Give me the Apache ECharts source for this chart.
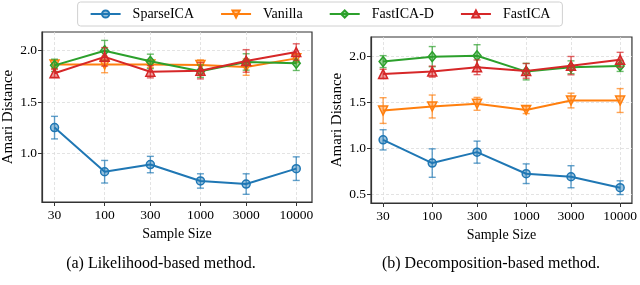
<!DOCTYPE html>
<html>
<head>
<meta charset="utf-8">
<script src="https://cdn.jsdelivr.net/npm/echarts@6/dist/echarts.min.js"></script>
<style>html,body{margin:0;padding:0;background:#fff}#c{width:640px;height:285px}</style>
</head>
<body>
<div id="c"></div>
<script>
const sampleSizes = [30, 100, 300, 1000, 3000, 10000];
const seriesNames = ['SparseICA', 'Vanilla', 'FastICA-D', 'FastICA'];
const yTicksLeft = [1.0, 1.5, 2.0];
const yTicksRight = [0.5, 1.0, 1.5, 2.0];

// (a) Likelihood-based method
const sparseL = [1.25, 0.82, 0.89, 0.73, 0.70, 0.85];
const sparseLErr = [0.11, 0.11, 0.08, 0.07, 0.10, 0.115];
const vanillaL = [1.865, 1.865, 1.865, 1.86, 1.84, 1.925];
const vanillaLErr = [0.04, 0.08, 0.03, 0.05, 0.08, 0.04];
const fastDL = [1.857, 2.0, 1.896, 1.80, 1.89, 1.877];
const fastDLErr = [0.06, 0.10, 0.07, 0.06, 0.08, 0.07];
const fastL = [1.78, 1.94, 1.795, 1.805, 1.90, 1.987];
const fastLErr = [0.04, 0.09, 0.06, 0.08, 0.11, 0.08];

// (b) Decomposition-based method
const sparseR = [1.094, 0.841, 0.96, 0.725, 0.692, 0.573];
const sparseRErr = [0.11, 0.155, 0.12, 0.107, 0.12, 0.075];
const vanillaR = [1.413, 1.457, 1.486, 1.42, 1.522, 1.522];
const vanillaRErr = [0.14, 0.125, 0.07, 0.04, 0.08, 0.13];
const fastDR = [1.946, 2.0, 2.01, 1.837, 1.884, 1.899];
const fastDRErr = [0.065, 0.11, 0.12, 0.09, 0.07, 0.06];
const fastR = [1.812, 1.837, 1.884, 1.845, 1.902, 1.967];
const fastRErr = [0.05, 0.06, 0.08, 0.08, 0.10, 0.08];

const colors = ['#1f77b4', '#ff7f0e', '#2ca02c', '#d62728'];
const fills = ['rgba(31,119,180,0.45)', 'rgba(255,127,14,0.45)', 'rgba(44,160,44,0.45)', 'rgba(214,39,40,0.45)'];
const symbols = ['circle', 'triangle', 'diamond', 'triangle'];
const symbolSizes = [8, 9, [8, 10], 9];
const symbolRot = [0, 180, 0, 0];
const FONT = 'Liberation Serif';

const panels = [
  {means: [sparseL, vanillaL, fastDL, fastL], errs: [sparseLErr, vanillaLErr, fastDLErr, fastLErr]},
  {means: [sparseR, vanillaR, fastDR, fastR], errs: [sparseRErr, vanillaRErr, fastDRErr, fastRErr]}
];

function errRender(params, api) {
  const x = api.value(0), y = api.value(1), e = api.value(2);
  const hi = api.coord([x, y + e]), lo = api.coord([x, y - e]);
  const w = 3.5;
  const style = {stroke: api.visual('color'), lineWidth: 1.4, opacity: 0.7};
  return {type: 'group', children: [
    {type: 'line', shape: {x1: hi[0], y1: hi[1], x2: lo[0], y2: lo[1]}, style},
    {type: 'line', shape: {x1: hi[0] - w, y1: hi[1], x2: hi[0] + w, y2: hi[1]}, style},
    {type: 'line', shape: {x1: lo[0] - w, y1: lo[1], x2: lo[0] + w, y2: lo[1]}, style}
  ]};
}

const series = [];
panels.forEach((p, pi) => {
  seriesNames.forEach((name, si) => {
    series.push({
      name: name + ' err ' + pi, type: 'custom', xAxisIndex: pi, yAxisIndex: pi,
      itemStyle: {color: colors[si]}, renderItem: errRender, silent: true,
      z: 2 + si * 2,
      data: sampleSizes.map((s, i) => [s, p.means[si][i], p.errs[si][i]])
    });
    series.push({
      name: name, type: 'line', xAxisIndex: pi, yAxisIndex: pi,
      data: sampleSizes.map((s, i) => [s, p.means[si][i]]),
      symbol: symbols[si], symbolSize: symbolSizes[si], symbolRotate: symbolRot[si],
      showAllSymbol: true, animation: false, z: 3 + si * 2,
      lineStyle: {color: colors[si], width: 2},
      itemStyle: {color: fills[si], borderColor: colors[si], borderWidth: 1.5}
    });
  });
});

const axisCommon = {
  axisLine: {show: true, lineStyle: {color: '#333', width: 1.2}},
  axisTick: {show: true, inside: false, length: 4, lineStyle: {color: '#333', width: 1}},
  splitLine: {show: true, lineStyle: {color: '#dcdcdc', type: [3, 2], width: 0.8}},
  axisLabel: {color: '#000', fontFamily: FONT, fontSize: 13.5}
};

function xAxis(idx, min, max) {
  return Object.assign({}, axisCommon, {
    type: 'log', gridIndex: idx, min, max, logBase: 10,
    name: 'Sample Size', nameLocation: 'middle', nameGap: 24,
    nameTextStyle: {color: '#000', fontFamily: FONT, fontSize: 14},
    axisTick: Object.assign({}, axisCommon.axisTick, {customValues: sampleSizes}),
    axisLabel: Object.assign({}, axisCommon.axisLabel, {customValues: sampleSizes, margin: 6, formatter: v => String(Math.round(v))}),
    minorTick: {show: false}, minorSplitLine: {show: false}
  });
}
function yAxis(idx, min, max, ticks) {
  return Object.assign({}, axisCommon, {
    type: 'value', gridIndex: idx, min, max,
    name: 'Amari Distance', nameLocation: 'middle', nameGap: 26,
    nameTextStyle: {color: '#000', fontFamily: FONT, fontSize: 15},
    axisTick: Object.assign({}, axisCommon.axisTick, {customValues: ticks}),
    axisLabel: Object.assign({}, axisCommon.axisLabel, {customValues: ticks, margin: 5, formatter: v => v.toFixed(1)})
  });
}

const chart = echarts.init(document.getElementById('c'), null, {renderer: 'canvas'});
chart.setOption({
  animation: false,
  color: colors,
  legend: {
    data: seriesNames, top: 2, left: 'center',
    itemWidth: 30, itemHeight: 9, itemGap: 26,
    padding: [5, 12], borderColor: '#d0d0d0', borderWidth: 1, borderRadius: 3,
    textStyle: {fontFamily: FONT, fontSize: 14, color: '#000', padding: [0, 0, 0, 7]}
  },
  title: [
    {text: '(a) Likelihood-based method.', left: 156, top: 251, textAlign: 'center',
     textStyle: {fontFamily: FONT, fontSize: 16, fontWeight: 'normal', color: '#000'}},
    {text: '(b) Decomposition-based method.', left: 486, top: 251, textAlign: 'center',
     textStyle: {fontFamily: FONT, fontSize: 16, fontWeight: 'normal', color: '#000'}}
  ],
  grid: [
    {left: 38, top: 32, width: 274, height: 170, show: true, borderColor: '#333', borderWidth: 1.2, containLabel: false},
    {left: 371, top: 37, width: 265, height: 166, show: true, borderColor: '#333', borderWidth: 1.2, containLabel: false}
  ],
  xAxis: [xAxis(0, 22.2, 14600), xAxis(1, 22.3, 13360)],
  yAxis: [yAxis(0, 0.525, 2.182, yTicksLeft), yAxis(1, 0.406, 2.214, yTicksRight)],
  series
});
</script>
</body>
</html>
